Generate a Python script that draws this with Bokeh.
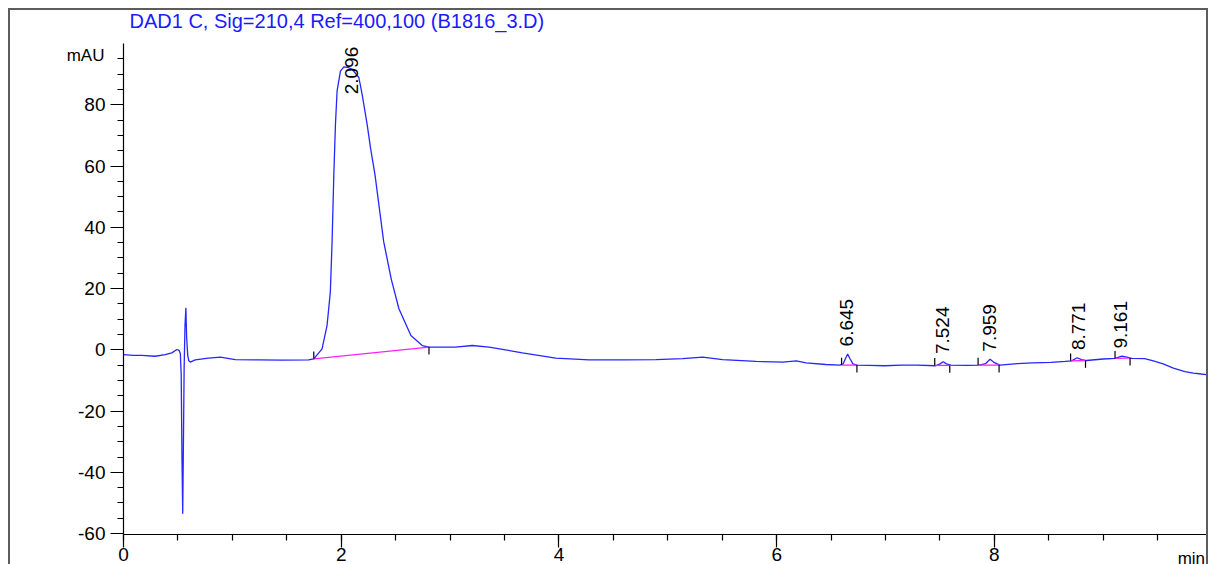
import numpy as np
from bokeh.plotting import figure
from bokeh.models import FixedTicker, Label, Range1d
from bokeh.core.properties import value
from bokeh.embed import file_html
from bokeh.resources import INLINE

# ---------------- data ----------------
time_min = [0.00, 0.09, 0.168, 0.29, 0.383, 0.444, 0.49, 0.511, 0.522, 0.530,
            0.537, 0.544, 0.550, 0.557, 0.565, 0.573, 0.580, 0.590, 0.600, 0.613,
            0.659, 0.78, 0.889, 1.027, 1.24, 1.456, 1.70, 1.748, 1.824, 1.87,
            1.90, 1.916, 1.932, 1.947, 1.962, 1.993, 2.024, 2.06, 2.10, 2.162,
            2.192, 2.238, 2.269, 2.31, 2.39, 2.46, 2.53, 2.64, 2.744, 2.806,
            3.05, 3.204, 3.358, 3.664, 3.97, 4.278, 4.584, 4.89, 5.136, 5.32,
            5.504, 5.81, 6.056, 6.18, 6.27, 6.45, 6.58, 6.61, 6.63, 6.652,
            6.675, 6.70, 6.74, 6.85, 6.99, 7.15, 7.29, 7.46, 7.50, 7.53,
            7.56, 7.60, 7.75, 7.86, 7.92, 7.96, 8.00, 8.05, 8.21, 8.35,
            8.52, 8.65, 8.71, 8.76, 8.80, 8.845, 9.00, 9.108, 9.17, 9.22,
            9.26, 9.38, 9.46, 9.55, 9.644, 9.75, 9.828, 9.90, 10.0]
signal_mau = [-1.6, -1.8, -1.8, -2.1, -1.6, -1.0, 0.1, -0.2, -1.2, -8.0,
              -35.0, -53.5, -32.0, -6.0, 8.0, 13.7, 4.0, -1.8, -3.6, -4.0,
              -3.3, -2.7, -2.4, -3.2, -3.3, -3.4, -3.3, -2.95, 0.3, 8.0,
              18.9, 35.3, 57.2, 73.6, 84.5, 91.0, 92.4, 92.2, 91.6, 88.9,
              83.4, 73.6, 65.9, 57.2, 35.3, 23.0, 13.4, 4.7, 1.4, 0.9,
              0.9, 1.4, 0.9, -1.0, -2.7, -3.3, -3.3, -3.2, -2.9, -2.4,
              -3.2, -3.8, -4.0, -3.6, -4.3, -4.8, -5.0, -4.6, -3.0, -1.4,
              -3.0, -4.6, -5.0, -5.1, -5.2, -5.0, -5.0, -5.2, -4.6, -3.9,
              -4.6, -5.0, -5.1, -5.0, -4.5, -3.1, -4.2, -5.0, -4.5, -4.3,
              -4.1, -3.8, -3.6, -2.6, -3.2, -3.5, -3.0, -2.8, -2.1, -2.4,
              -2.8, -2.9, -3.6, -4.6, -6.0, -7.1, -7.6, -7.9, -8.3]

peak_rt = [2.096, 6.645, 7.524, 7.959, 8.771, 9.161]
peak_label = ["2.096", "6.645", "7.524", "7.959", "8.771", "9.161"]
peak_apex = [92.4, -1.4, -3.9, -3.1, -2.6, -2.1]
peak_start = [1.748, 6.596, 7.452, 7.85, 8.70, 9.108]
peak_end = [2.806, 6.737, 7.59, 8.043, 8.837, 9.246]
base_start = [-2.95, -5.0, -5.1, -5.0, -3.6, -2.8]
base_end = [0.9, -5.0, -5.1, -5.0, -3.5, -2.7]

x_ticks = [0, 2, 4, 6, 8]
x_tick_labels = ["0", "2", "4", "6", "8"]
y_ticks = [-60, -40, -20, 0, 20, 40, 60, 80]
y_tick_labels = ["-60", "-40", "-20", "0", "20", "40", "60", "80"]

title_text = "DAD1 C, Sig=210,4 Ref=400,100 (B1816_3.D)"
y_unit = "mAU"
x_unit = "min"

# ---------------- styling ----------------
FONT = "Liberation Sans"
BORDER = "2px solid #5c5c5c"

p = figure(width=1200, height=556, output_backend="svg", toolbar_location=None,
           x_range=Range1d(0, 9.985), y_range=Range1d(-60.3, 100.0),
           min_border_left=112, min_border_right=0,
           min_border_top=33, min_border_bottom=32)
p.styles = {"margin-left": "8px", "margin-top": "8px",
            "border-top": BORDER, "border-left": BORDER, "border-right": BORDER}
p.outline_line_color = None
p.xgrid.visible = False
p.ygrid.visible = False
p.background_fill_color = "white"
p.border_fill_color = "white"

for ax in (p.xaxis[0], p.yaxis[0]):
    ax.axis_line_color = "black"
    ax.axis_line_width = 1.2
    ax.major_tick_line_color = "black"
    ax.minor_tick_line_color = "black"
    ax.major_tick_line_width = 1.2
    ax.minor_tick_line_width = 1.2
    ax.major_tick_in = 0
    ax.minor_tick_in = 0
    ax.major_tick_out = 13
    ax.minor_tick_out = 6
    ax.major_label_text_font = FONT
    ax.major_label_text_font_size = "19px"
    ax.major_label_text_color = "black"

p.xaxis.ticker = FixedTicker(ticks=x_ticks, minor_ticks=[i * 0.5 for i in range(0, 20)])
p.xaxis.major_label_overrides = {t: s for t, s in zip(x_ticks, x_tick_labels)}
p.xaxis.major_label_standoff = 0

p.yaxis.ticker = FixedTicker(ticks=y_ticks, minor_ticks=list(range(-60, 96, 5)))
p.yaxis.major_label_overrides = {t: s for t, s in zip(y_ticks, y_tick_labels)}
p.yaxis.major_label_standoff = 5

# chromatogram trace
p.line(time_min, signal_mau, line_color="#2626ff", line_width=1.3)

# integration baselines and their start/end marks
p.segment(x0=peak_start, y0=base_start, x1=peak_end, y1=base_end,
          line_color="#ff20ff", line_width=1.3)
p.segment(x0=peak_start, y0=base_start, x1=peak_start,
          y1=[b + 2.4 for b in base_start], line_color="black", line_width=1.2)
p.segment(x0=peak_end, y0=base_end, x1=peak_end,
          y1=[b - 2.4 for b in base_end], line_color="black", line_width=1.2)

# retention-time labels
label_y = [min(a + 2.5, 83.4) for a in peak_apex]
p.text(x=peak_rt, y=label_y, text=peak_label, angle=np.pi / 2,
       text_align="left", text_baseline="middle",
       text_font=value(FONT), text_font_size="19px", text_color="black")

# title and units: placed in side panels (data coordinates) so that they are
# not clipped to the frame; the left panel has room for both unit labels
p.add_layout(Label(x=0.055, y=107.4, text=title_text, text_align="left",
                   text_baseline="middle", text_font=FONT,
                   text_font_size="20px", text_color="#1a1aff"), "above")
p.add_layout(Label(x=-0.175, y=96.1, text=y_unit, text_align="right",
                   text_baseline="middle", text_font=FONT,
                   text_font_size="17px", text_color="black"), "left")
p.add_layout(Label(x=9.935, y=-68.2, text=x_unit, text_align="right",
                   text_baseline="middle", text_font=FONT,
                   text_font_size="17px", text_color="black"), "left")

open("out.html", "w").write(file_html(p, INLINE))
